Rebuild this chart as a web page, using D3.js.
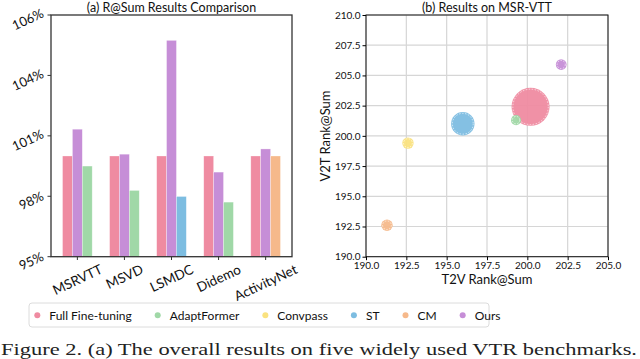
<!DOCTYPE html>
<html>
<head>
<meta charset="utf-8">
<script src="https://cdn.jsdelivr.net/npm/d3@7"></script>
<style>
  body { margin: 0; background: #fff; }
  svg { display: block; font-family: Lato, "Open Sans", sans-serif; }
  .caption { font-family: "Liberation Serif", "Times New Roman", serif; }
</style>
</head>
<body>
<svg id="chart" width="640" height="359"></svg>
<script>
// (a) bar chart data, relative R@Sum in %
const datasets = ["MSRVTT", "MSVD", "LSMDC", "Didemo", "ActivityNet"]
const fullFT = [100, 100, 100, 100, 100]
const oursRel = [101.33, 100.09, 105.74, 99.2, 100.35]
const baselineRel = [99.5, 98.29, 97.99, 97.71, 100]
const baselineMethod = ["AdaptFormer", "AdaptFormer", "ST", "AdaptFormer", "CM"]
const barTicks = [95, 98, 101, 104, 107]
const barTickLabels = ["95%", "98%", "101%", "104%", "106%"]

// (b) scatter on MSR-VTT
const methods = ["Full Fine-tuning", "AdaptFormer", "Convpass", "ST", "CM", "Ours"]
const t2v = [200.2, 199.3, 192.6, 196.0, 191.3, 202.1]
const v2t = [202.4, 201.3, 199.4, 201.0, 192.6, 205.9]
const bubble = [100, 7, 9, 38, 9, 8]
const colors = ["#ef8ba1", "#a0d8a7", "#fae27f", "#7dbde1", "#f6b98b", "#c68ed7"]

const caption = "Figure 2.  (a) The overall results on five widely used VTR benchmarks."

const svg = d3.select("#chart")
const color = d3.scaleOrdinal(methods, colors)

// rotated text, returns its rotated bounding box size
function rotText(g, str, angle, size) {
  const t = g.append("text")
    .attr("font-size", size)
    .attr("fill", "#111")
    .attr("text-anchor", "middle")
    .attr("dominant-baseline", "central")
    .text(str)
  const w = t.node().getComputedTextLength()
  const h = size * 0.85
  const a = Math.abs(angle) * Math.PI / 180
  const bw = w * Math.cos(a) + h * Math.sin(a)
  const bh = w * Math.sin(a) + h * Math.cos(a)
  return { t, bw, bh }
}

// ---------- (a) ----------
const a = svg.append("g")
const ax = d3.scaleLinear().domain([-0.56, 4.56]).range([51, 292])
const ay = d3.scaleLinear().domain([95, 107]).range([256.7, 15])
const bw = 0.21

const bars = []
datasets.forEach((d, i) => {
  bars.push({ i, off: -1, v: fullFT[i], m: "Full Fine-tuning" })
  bars.push({ i, off: 0, v: oursRel[i], m: "Ours" })
  bars.push({ i, off: 1, v: baselineRel[i], m: baselineMethod[i] })
})

a.selectAll(".bar")
  .data(bars)
  .enter()
  .append("rect")
  .attr("x", d => ax(d.i + (d.off - 0.5) * bw))
  .attr("width", ax(bw) - ax(0))
  .attr("y", d => ay(d.v))
  .attr("height", d => ay(95) - ay(d.v))
  .attr("fill", d => color(d.m))
  .attr("stroke", "#fff")
  .attr("stroke-opacity", 0.5)
  .attr("stroke-width", 0.6)

// frame
a.append("rect")
  .attr("x", 51).attr("y", 15)
  .attr("width", 241).attr("height", 241.7)
  .attr("fill", "none").attr("stroke", "#333").attr("stroke-width", 1.3)

// y ticks
barTicks.forEach((v, k) => {
  a.append("line").attr("x1", 47.5).attr("x2", 51).attr("y1", ay(v)).attr("y2", ay(v))
    .attr("stroke", "#333").attr("stroke-width", 1)
  const r = rotText(a, barTickLabels[k], -25, 13)
  const cx = 45 - r.bw / 2, cy = ay(v) + 4
  r.t.attr("transform", `translate(${cx},${cy}) rotate(-25)`)
})

// x ticks
datasets.forEach((d, i) => {
  a.append("line").attr("x1", ax(i)).attr("x2", ax(i)).attr("y1", 256.7).attr("y2", 260)
    .attr("stroke", "#333").attr("stroke-width", 1)
  const r = rotText(a, d, -25, 13.5)
  const cy = 263 + r.bh / 2
  r.t.attr("transform", `translate(${ax(i)},${cy}) rotate(-25)`)
})

a.append("text")
  .attr("x", 171.5).attr("y", 12)
  .attr("text-anchor", "middle")
  .attr("font-size", 12.5)
  .attr("fill", "#111")
  .text("(a) R@Sum Results Comparison")

// ---------- (b) ----------
const b = svg.append("g")
const bx = d3.scaleLinear().domain([190, 205]).range([366, 608])
const by = d3.scaleLinear().domain([190, 210]).range([256.7, 15])
const rs = d3.scaleSqrt().domain([0, 100]).range([0, 19])

const xt = d3.range(190, 205.01, 2.5)
const yt = d3.range(190, 210.01, 2.5)

b.selectAll(".gx").data(xt).enter().append("line")
  .attr("x1", d => bx(d)).attr("x2", d => bx(d)).attr("y1", 15).attr("y2", 256.7)
  .attr("stroke", "#d6d6d6").attr("stroke-width", 1.2)
b.selectAll(".gy").data(yt).enter().append("line")
  .attr("y1", d => by(d)).attr("y2", d => by(d)).attr("x1", 366).attr("x2", 608)
  .attr("stroke", "#d6d6d6").attr("stroke-width", 1.2)

const pts = methods.map((m, i) => ({ m, x: t2v[i], y: v2t[i], s: bubble[i] }))
const pg = b.selectAll(".pt").data(pts).enter().append("g")
  .attr("transform", d => `translate(${bx(d.x)},${by(d.y)})`)
pg.append("circle")
  .attr("r", d => rs(d.s))
  .attr("fill", d => color(d.m))
  .attr("fill-opacity", 0.95)
pg.append("circle")
  .attr("r", d => Math.max(rs(d.s) - 1.3, 1))
  .attr("fill", "none")
  .attr("stroke", "#fff")
  .attr("stroke-opacity", 0.8)
  .attr("stroke-width", 0.8)
  .attr("stroke-dasharray", "1.5,1.5")

b.append("rect")
  .attr("x", 366).attr("y", 15).attr("width", 242).attr("height", 241.7)
  .attr("fill", "none").attr("stroke", "#111").attr("stroke-width", 1)

b.append("g")
  .attr("transform", "translate(0,256.7)")
  .call(d3.axisBottom(bx).tickValues(xt).tickFormat(d3.format(".1f")).tickSize(3.5).tickPadding(2))
  .call(g => g.select(".domain").remove())
  .call(g => g.selectAll("text").attr("font-size", 10).attr("fill", "#111").attr("font-family", "Lato"))
b.append("g")
  .attr("transform", "translate(366,0)")
  .call(d3.axisLeft(by).tickValues(yt).tickFormat(d3.format(".1f")).tickSize(3.5).tickPadding(2))
  .call(g => g.select(".domain").remove())
  .call(g => g.selectAll("text").attr("font-size", 10).attr("fill", "#111").attr("font-family", "Lato"))

b.append("text")
  .attr("x", 487).attr("y", 284)
  .attr("text-anchor", "middle").attr("font-size", 13).attr("fill", "#111")
  .text("T2V Rank@Sum")
b.append("text")
  .attr("transform", "translate(330,136) rotate(-90)")
  .attr("text-anchor", "middle").attr("font-size", 13).attr("fill", "#111")
  .text("V2T Rank@Sum")
b.append("text")
  .attr("x", 487).attr("y", 12)
  .attr("text-anchor", "middle").attr("font-size", 12.5).attr("fill", "#111")
  .text("(b) Results on MSR-VTT")

// ---------- legend ----------
const lg = svg.append("g")
lg.append("rect")
  .attr("x", 29).attr("y", 303).attr("width", 460).attr("height", 24).attr("rx", 3)
  .attr("fill", "#fff").attr("stroke", "#dcdcdc").attr("stroke-width", 1)
let lx = 37.3
methods.forEach(m => {
  lg.append("circle").attr("cx", lx).attr("cy", 315.3).attr("r", 3)
    .attr("fill", color(m))
  const t = lg.append("text").attr("x", lx + 12).attr("y", 315.3)
    .attr("dominant-baseline", "central").attr("font-size", 12).attr("fill", "#111")
    .text(m)
  lx += 12 + t.node().getComputedTextLength() + 26
})

// ---------- caption ----------
svg.append("text")
  .attr("class", "caption")
  .attr("x", 1).attr("y", 355)
  .attr("font-size", 17)
  .attr("fill", "#222")
  .attr("textLength", 636)
  .attr("lengthAdjust", "spacingAndGlyphs")
  .text(caption)
</script>
</body>
</html>
